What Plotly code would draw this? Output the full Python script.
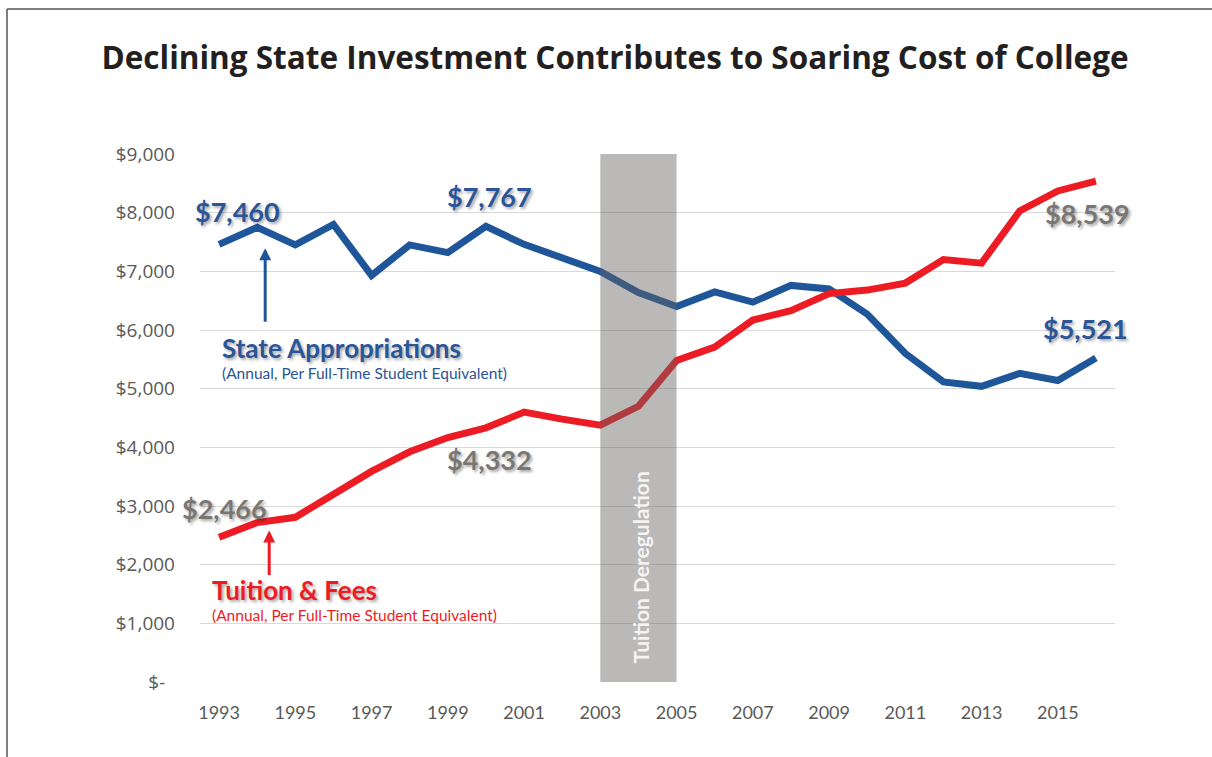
import plotly.graph_objects as go

# ---------------- data ----------------
years = list(range(1993, 2017))
state_appropriations = [7460, 7750, 7450, 7800, 6930, 7450, 7320, 7767, 7460, 7230,
                        7000, 6640, 6400, 6650, 6475, 6760, 6700, 6270, 5600, 5115,
                        5040, 5260, 5140, 5521]
tuition_fees = [2466, 2717, 2807, 3187, 3590, 3924, 4167, 4332, 4600, 4480,
                4378, 4700, 5480, 5710, 6170, 6330, 6620, 6680, 6800, 7200,
                7140, 8030, 8370, 8539]
x_tick_years = list(range(1993, 2016, 2))
y_tick_vals = [0, 1000, 2000, 3000, 4000, 5000, 6000, 7000, 8000, 9000]
y_tick_text = ["$-\u00a0\u00a0", "$1,000", "$2,000", "$3,000", "$4,000", "$5,000",
               "$6,000", "$7,000", "$8,000", "$9,000"]
dereg_start, dereg_end = 2003, 2005

BLUE = "#1f5699"
RED = "#ed1c24"
LBLUE = "#2a5597"
GRAY = "#7a7672"

# ---------------- layout geometry ----------------
W, H = 1212, 757
L, R, T, B = 200, 97, 154, 75
PW, PH = W - L - R, H - T - B


def paper_x(px):
    return (px - L) / PW


def paper_y(py):
    return (H - B - py) / PH


fig = go.Figure()
fig.add_trace(go.Scatter(x=years, y=state_appropriations, mode="lines",
                         line=dict(color=BLUE, width=7), hoverinfo="skip"))
fig.add_trace(go.Scatter(x=years, y=tuition_fees, mode="lines",
                         line=dict(color=RED, width=7), hoverinfo="skip"))

shadow = "2px 2px 3px rgba(0,0,0,0.35)"
val_font = "Lato"


def fmt(v):
    return "$" + format(v, ",")


annotations = []
# value labels anchored to data points
labels = [
    (0, state_appropriations, LBLUE, 18, 33),
    (7, state_appropriations, LBLUE, 4, 30),
    (23, state_appropriations, LBLUE, -10, 30),
    (0, tuition_fees, GRAY, 5, 29),
    (7, tuition_fees, GRAY, 4, -32),
    (23, tuition_fees, GRAY, -8, -32),
]
for i, series, col, xs, ys in labels:
    annotations.append(dict(x=years[i], y=series[i], xref="x", yref="y",
                            text="<b>" + fmt(series[i]) + "</b>", showarrow=False,
                            xshift=xs, yshift=ys,
                            font=dict(family=val_font, size=27, color=col,
                                      weight=900, shadow=shadow)))

# series titles
annotations += [
    dict(x=paper_x(220), y=paper_y(348), xref="paper", yref="paper", xanchor="left",
         yanchor="middle", showarrow=False, text="<b>State Appropriations</b>",
         font=dict(family=val_font, size=26, color=LBLUE, weight=900, shadow=shadow)),
    dict(x=paper_x(220), y=paper_y(373), xref="paper", yref="paper", xanchor="left",
         yanchor="middle", showarrow=False,
         text="(Annual, Per Full-Time Student Equivalent)",
         font=dict(family=val_font, size=15.5, color=LBLUE)),
    dict(x=paper_x(210), y=paper_y(590), xref="paper", yref="paper", xanchor="left",
         yanchor="middle", showarrow=False, text="<b>Tuition &amp; Fees</b>",
         font=dict(family=val_font, size=26, color=RED, weight=900, shadow=shadow)),
    dict(x=paper_x(210), y=paper_y(615), xref="paper", yref="paper", xanchor="left",
         yanchor="middle", showarrow=False,
         text="(Annual, Per Full-Time Student Equivalent)",
         font=dict(family=val_font, size=15.5, color=RED)),
]

# arrows pointing at 1994 values
annotations += [
    dict(x=years[1], y=state_appropriations[1], xref="x", yref="y", text="",
         showarrow=True, ax=0, ay=96, standoff=21, xshift=8,
         arrowhead=2, arrowsize=0.8, arrowwidth=3, arrowcolor=BLUE),
    dict(x=years[1], y=tuition_fees[1], xref="x", yref="y", text="",
         showarrow=True, ax=0, ay=54, standoff=8, xshift=12,
         arrowhead=2, arrowsize=0.8, arrowwidth=3, arrowcolor=RED),
]

# band label
annotations.append(dict(x=(dereg_start + dereg_end) / 2, y=paper_y(567), xref="x",
                        yref="paper", xanchor="center", yanchor="middle",
                        text="Tuition Deregulation", textangle=-90,
                        showarrow=False, xshift=2,
                        font=dict(family=val_font, size=21, color="#f4f4f4", weight=700)))

shapes = [
    dict(type="rect", xref="x", yref="y", x0=dereg_start, x1=dereg_end, y0=0, y1=9000,
         fillcolor="rgba(101,99,97,0.45)", line=dict(width=0), layer="above"),
    # frame lines
    dict(type="line", xref="paper", yref="paper", x0=paper_x(7), x1=paper_x(7),
         y0=paper_y(9), y1=paper_y(760), line=dict(color="#555555", width=1.5)),
    dict(type="line", xref="paper", yref="paper", x0=paper_x(7), x1=paper_x(1215),
         y0=paper_y(9), y1=paper_y(9), line=dict(color="#555555", width=1.5)),
]

fig.update_layout(
    width=W, height=H,
    margin=dict(l=L, r=R, t=T, b=B),
    paper_bgcolor="white", plot_bgcolor="white",
    showlegend=False,
    title=dict(text="<b>Declining State Investment Contributes to Soaring Cost of College</b>",
               x=615 / W, xanchor="center", y=1 - 58 / H, yanchor="middle",
               yref="container",
               font=dict(family="Open Sans", size=31.5, color="#231f20", weight=600)),
    xaxis=dict(range=[1992.5, 2016.5], tickvals=x_tick_years,
               ticktext=[str(y) for y in x_tick_years], showgrid=False,
               zeroline=False, showline=False, ticks="", ticklabelstandoff=18,
               tickfont=dict(family="Lato", size=18, color="#595959")),
    yaxis=dict(range=[0, 9000], tickvals=y_tick_vals, ticktext=y_tick_text,
               showgrid=True, gridcolor="#d9d9d9", gridwidth=1, zeroline=False,
               showline=False, ticks="", ticklabelstandoff=24,
               tickfont=dict(family="Open Sans", size=19, color="#595959")),
    shapes=shapes,
    annotations=annotations,
)

fig.write_html("out.html")
